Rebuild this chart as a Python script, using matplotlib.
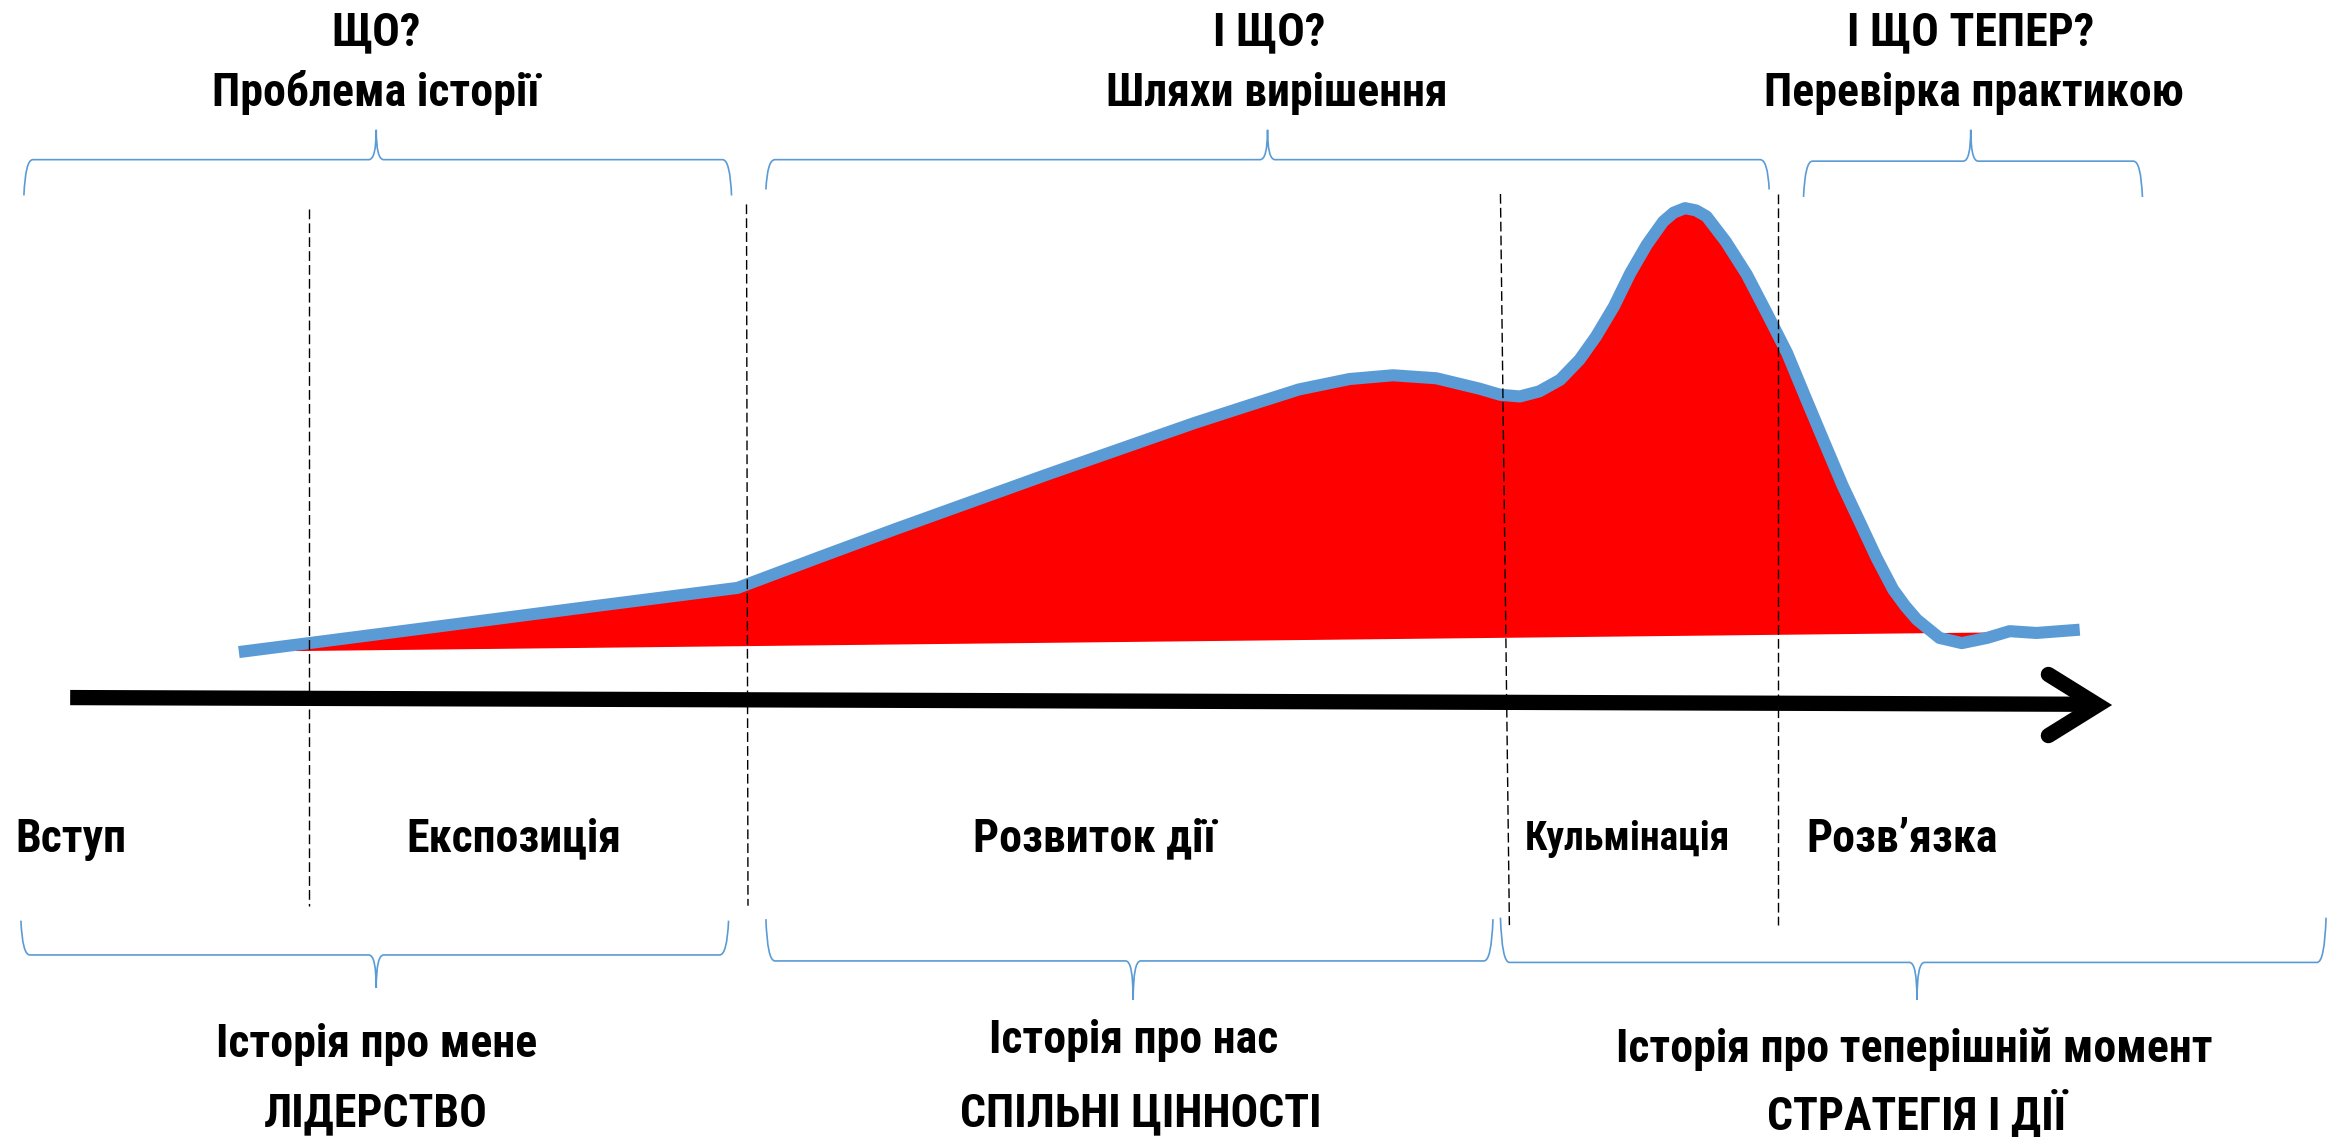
import numpy as np
import matplotlib
matplotlib.use("Agg")
import matplotlib.pyplot as plt
from matplotlib.path import Path
from matplotlib.patches import PathPatch

plt.rcParams['font.family'] = ['Liberation Sans Narrow', 'Roboto Condensed', 'Roboto', 'DejaVu Sans']

# --- тексти ---
top_titles = ["ЩО?", "І ЩО?", "І ЩО ТЕПЕР?"]
top_subtitles = ["Проблема історії", "Шляхи вирішення", "Перевірка практикою"]
stage_labels = ["Вступ", "Експозиція", "Розвиток дії", "Кульмінація", "Розв’язка"]
bottom_titles = ["Історія про мене", "Історія про нас", "Історія про теперішній момент"]
bottom_values = ["ЛІДЕРСТВО", "СПІЛЬНІ ЦІННОСТІ", "СТРАТЕГІЯ І ДІЇ"]

# --- крива напруги сюжету (координати в пікселях зменшеної картинки, y вниз) ---
curve_x = [160, 207, 300, 400, 494, 550, 600, 650, 700, 750, 800, 837, 870,
           904, 933, 962, 991, 1005, 1018, 1031, 1045, 1058, 1069, 1081, 1092,
           1103, 1114, 1121, 1128.6, 1136, 1143, 1156, 1170, 1183, 1197, 1210,
           1223, 1234, 1246, 1257, 1268, 1276, 1284, 1299, 1314, 1331, 1346,
           1364, 1393]
curve_y = [437, 431, 419, 406, 394, 373, 354.5, 336.5, 318.5, 301, 283.5, 271.5, 261,
           254, 251.5, 253.5, 260.5, 264.6, 265.7, 262.3, 254.5, 241, 225.5, 205.4, 183,
           164, 148.5, 142.5, 139.5, 141, 145, 162, 184, 209, 236.6, 268,
           299, 325, 350.5, 374, 395, 406, 415.3, 427.5, 431, 427.5, 423,
           424.2, 422]
fill_base_x = [198, 1337]
fill_base_y = [436, 423.5]

# межі етапів (пунктир)
stage_lines = [((207, 140), (207, 607)), ((500, 137), (501, 607)),
               ((1005, 130), (1011, 620)), ((1191, 130), (1191, 620))]

# фігурні дужки: x0, x1, середина, лінія, кінці, вістря
top_braces = [(16, 490, 252, 107, 131, 87), (513, 1185, 849, 107, 127, 87),
              (1208, 1435, 1320, 108, 132, 87)]
bottom_braces = [(14, 488, 252, 640, 617, 662), (513, 1000, 759, 644, 616, 670),
                 (1005, 1558, 1284, 645, 615, 670)]

BLUE = '#5B9BD5'

fig = plt.figure(figsize=(23.41, 11.37), dpi=100)
ax = fig.add_axes([0, 0, 1, 1])
ax.set_xlim(0, 1568)
ax.set_ylim(762, 0)
ax.axis('off')

# червона заливка
cx = np.array(curve_x, dtype=float)
cy = np.array(curve_y, dtype=float)
m = (cx >= fill_base_x[0]) & (cx <= fill_base_x[1])
fx = np.concatenate([[fill_base_x[0]], cx[m], [fill_base_x[1]]])
fy_top = np.interp(fx, cx, cy)
fy_base = np.interp(fx, fill_base_x, fill_base_y)
ax.fill_between(fx, fy_top, fy_base, color='#FF0000', lw=0, zorder=2)

# синя лінія
ax.plot(cx, cy, color=BLUE, lw=8.7, solid_joinstyle='round', solid_capstyle='butt', zorder=3)

# часова вісь зі стрілкою
ax.plot([47, 1400], [467.5, 472], color='black', lw=11, solid_capstyle='butt', zorder=4)
ax.plot([1372, 1405, 1372], [452, 472.5, 493], color='black', lw=11,
        solid_capstyle='round', solid_joinstyle='miter', zorder=4)

# пунктирні межі
for (x0, y0), (x1, y1) in stage_lines:
    ax.plot([x0, x1], [y0, y1], color='black', lw=1, ls=(0, (7, 3)), zorder=5)


def brace(x0, x1, xm, yl, ye, yt):
    r = 6
    verts = [(x0, ye), (x0 + 1, yl), (x0 + r, yl), (xm - 5, yl), (xm, yl), (xm, yt),
             (xm, yl), (xm + 5, yl), (x1 - r, yl), (x1 - 1, yl), (x1, ye)]
    codes = [Path.MOVETO, Path.CURVE3, Path.CURVE3, Path.LINETO, Path.CURVE3, Path.CURVE3,
             Path.CURVE3, Path.CURVE3, Path.LINETO, Path.CURVE3, Path.CURVE3]
    ax.add_patch(PathPatch(Path(verts, codes), fill=False, edgecolor=BLUE, lw=1.2, zorder=5))


for b in top_braces + bottom_braces:
    brace(*b)

FS = 33

# тексти зверху
top_x = [252, 850, 1320]
sub_x = [252, 855, 1322]
for t, x in zip(top_titles, top_x):
    ax.text(x, 22, t, ha='center', va='center', fontsize=FS, fontweight='bold')
for t, x in zip(top_subtitles, sub_x):
    ax.text(x, 62, t, ha='center', va='center', fontsize=FS, fontweight='bold')

# етапи
stage_x = [10, 272, 652, 1021, 1210]
stage_fs = [FS, FS, FS, 28.5, FS]
for t, x, fs in zip(stage_labels, stage_x, stage_fs):
    ax.text(x, 562, t, ha='left', va='center', fontsize=fs, fontweight='bold')

# тексти знизу
bt_x = [252, 759, 1282]
bt_y = [700, 697, 703]
bv_x = [252, 764, 1284]
for t, x, y in zip(bottom_titles, bt_x, bt_y):
    ax.text(x, y, t, ha='center', va='center', fontsize=FS, fontweight='bold')
for t, x in zip(bottom_values, bv_x):
    ax.text(x, 746, t, ha='center', va='center', fontsize=FS, fontweight='bold')

fig.savefig('out.png', dpi=100, facecolor='white')
